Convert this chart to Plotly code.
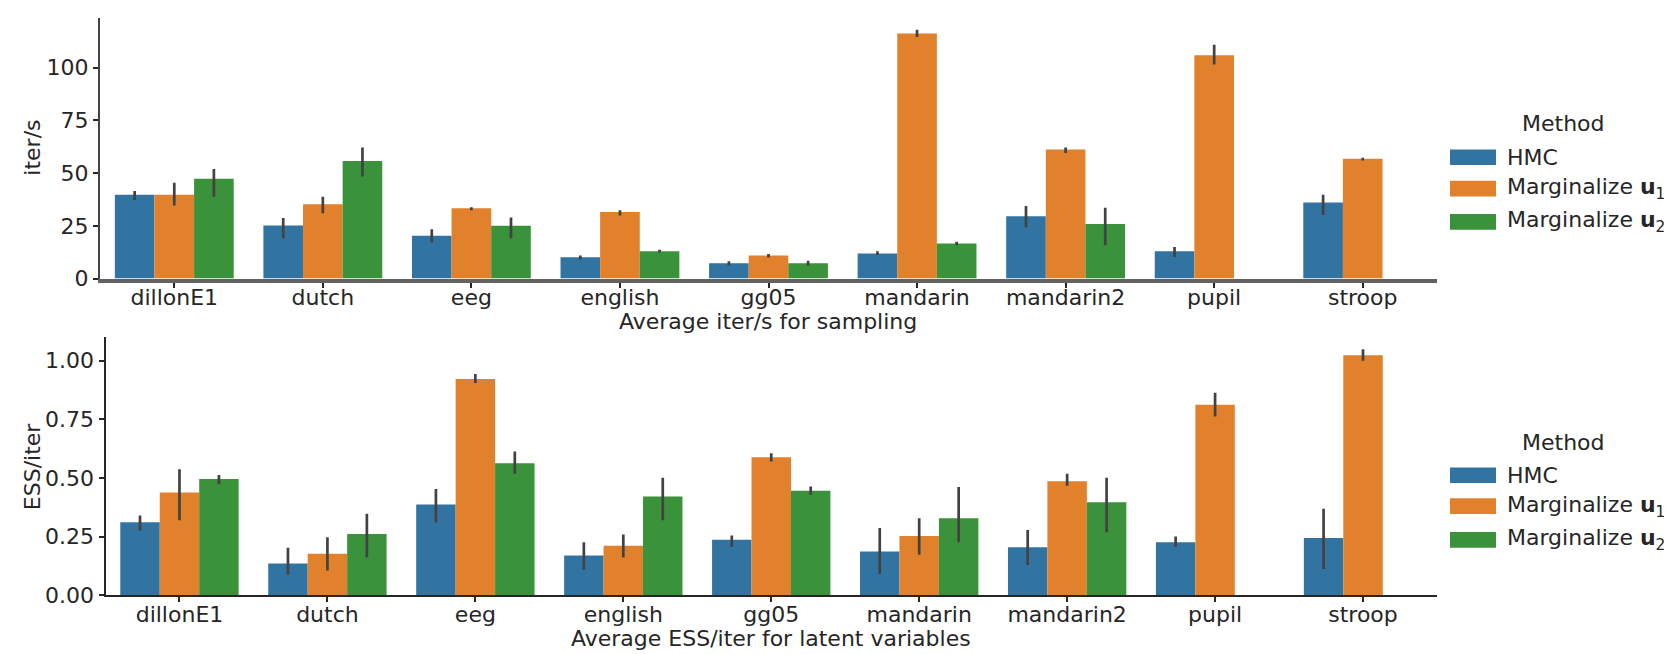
import plotly.graph_objects as go

W, H = 1672, 654

categories = ["dillonE1", "dutch", "eeg", "english", "gg05", "mandarin", "mandarin2", "pupil", "stroop"]
methods = ["HMC", "Marginalize <b>u</b><sub>1</sub>", "Marginalize <b>u</b><sub>2</sub>"]
colors = ["#3274a1", "#e1812c", "#3a923a"]

# Panel 1: iter/s (mean, CI low, CI high)
iters_hmc = [39.8, 25.1, 20.3, 10.1, 7.3, 11.9, 29.6, 12.9, 36.1]
iters_hmc_lo = [37.2, 19.1, 17.1, 9.0, 6.2, 11.2, 24.2, 10.2, 30.1]
iters_hmc_hi = [41.5, 28.7, 23.4, 10.9, 8.2, 12.9, 34.4, 15.0, 39.7]
iters_u1 = [39.8, 35.2, 33.3, 31.5, 10.9, 116.3, 61.2, 105.9, 56.8]
iters_u1_lo = [34.6, 31.0, 32.4, 29.9, 10.0, 114.6, 59.6, 101.6, 56.0]
iters_u1_hi = [45.4, 38.8, 33.8, 32.4, 11.6, 118.0, 62.2, 110.9, 57.3]
iters_u2 = [47.3, 55.7, 25.0, 12.9, 7.3, 16.6, 25.9, None, None]
iters_u2_lo = [38.8, 48.4, 19.1, 12.3, 6.0, 15.8, 15.8, None, None]
iters_u2_hi = [52.0, 62.2, 29.0, 13.6, 8.4, 17.4, 33.6, None, None]

# Panel 2: ESS/iter
ess_hmc = [0.312, 0.136, 0.387, 0.170, 0.237, 0.187, 0.205, 0.227, 0.245]
ess_hmc_lo = [0.276, 0.088, 0.311, 0.109, 0.206, 0.091, 0.130, 0.206, 0.113]
ess_hmc_hi = [0.341, 0.203, 0.453, 0.227, 0.255, 0.287, 0.279, 0.251, 0.369]
ess_u1 = [0.439, 0.178, 0.922, 0.212, 0.589, 0.253, 0.487, 0.813, 1.024]
ess_u1_lo = [0.320, 0.106, 0.905, 0.162, 0.571, 0.173, 0.467, 0.763, 1.000]
ess_u1_hi = [0.538, 0.248, 0.944, 0.259, 0.606, 0.329, 0.518, 0.864, 1.049]
ess_u2 = [0.496, 0.262, 0.563, 0.421, 0.446, 0.329, 0.397, None, None]
ess_u2_lo = [0.474, 0.162, 0.519, 0.320, 0.429, 0.226, 0.269, None, None]
ess_u2_hi = [0.513, 0.348, 0.613, 0.501, 0.464, 0.462, 0.501, None, None]

panel1 = [(iters_hmc, iters_hmc_lo, iters_hmc_hi),
          (iters_u1, iters_u1_lo, iters_u1_hi),
          (iters_u2, iters_u2_lo, iters_u2_hi)]
panel2 = [(ess_hmc, ess_hmc_lo, ess_hmc_hi),
          (ess_u1, ess_u1_lo, ess_u1_hi),
          (ess_u2, ess_u2_lo, ess_u2_hi)]

FONT = "DejaVu Sans"
TXT = "#262626"
ERR = "#424242"

def px(v):
    return v / W

def py(v):
    return 1 - v / H

fig = go.Figure()

for panel, xa, ya in [(panel1, "x", "y"), (panel2, "x2", "y2")]:
    for (vals, lo, hi), name, col in zip(panel, methods, colors):
        up = [None if v is None else h - v for v, h in zip(vals, hi)]
        dn = [None if v is None else v - l for v, l in zip(vals, lo)]
        fig.add_trace(go.Bar(
            x=categories, y=vals, name=name, xaxis=xa, yaxis=ya,
            marker=dict(color=col, line=dict(width=0)),
            error_y=dict(type="data", symmetric=False, array=up, arrayminus=dn,
                         color=ERR, thickness=2.7, width=0),
            showlegend=False,
        ))

axis_common = dict(
    showgrid=False, zeroline=False, ticks="outside", ticklen=5, tickwidth=1.5,
    tickcolor=TXT, tickfont=dict(family=FONT, size=22, color=TXT), showline=True,
)

fig.update_layout(
    width=W, height=H,
    margin=dict(l=0, r=0, t=0, b=0),
    paper_bgcolor="white", plot_bgcolor="white",
    barmode="group", bargap=0.2, bargroupgap=0,
    font=dict(family=FONT, size=22, color=TXT),
    xaxis=dict(domain=[px(92), px(1429)], anchor="y", type="category",
               range=[-0.5, 8.5], linecolor="rgba(70,70,70,0.85)", linewidth=4,
               ticklabelstandoff=-9, **axis_common),
    yaxis=dict(domain=[py(276), py(10)], anchor="x", range=[0, 123.7],
               tickvals=[0, 25, 50, 75, 100], linecolor="#444444", linewidth=2,
               **axis_common),
    xaxis2=dict(domain=[px(97.5), px(1429)], anchor="y2", type="category",
                range=[-0.5, 8.5], linecolor=TXT, linewidth=2,
                ticklabelstandoff=-7, **axis_common),
    yaxis2=dict(domain=[py(599.3), py(336)], anchor="x2", range=[0, 1.10],
                tickvals=[0, 0.25, 0.5, 0.75, 1.0], tickformat=".2f",
                linecolor=TXT, linewidth=2, **axis_common),
)

ann = []
def text(x, y, t, angle=0, xanchor="center"):
    ann.append(dict(x=px(x), y=py(y), xref="paper", yref="paper", text=t,
                    showarrow=False, textangle=angle, xanchor=xanchor, yanchor="middle",
                    font=dict(family=FONT, size=22, color=TXT)))

text(24.5, 143, "iter/s", angle=-90)
text(760, 320, "Average iter/s for sampling")
text(24.5, 468, "ESS/iter", angle=-90)
text(763, 643.5, "Average ESS/iter for latent variables")

shapes = []
for title_y, item_ys in [(118, [152.3, 184.3, 218.3]), (443.3, [476.7, 508.3, 542.7])]:
    text(1555, title_y, "Method")
    for yy, name, col in zip(item_ys, methods, colors):
        shapes.append(dict(type="rect", xref="paper", yref="paper",
                           x0=px(1442), x1=px(1488), y0=py(yy + 8), y1=py(yy - 8),
                           fillcolor=col, line=dict(width=0)))
        text(1497, yy, name, xanchor="left")

fig.update_layout(annotations=ann, shapes=shapes)

fig.write_html("out.html")
